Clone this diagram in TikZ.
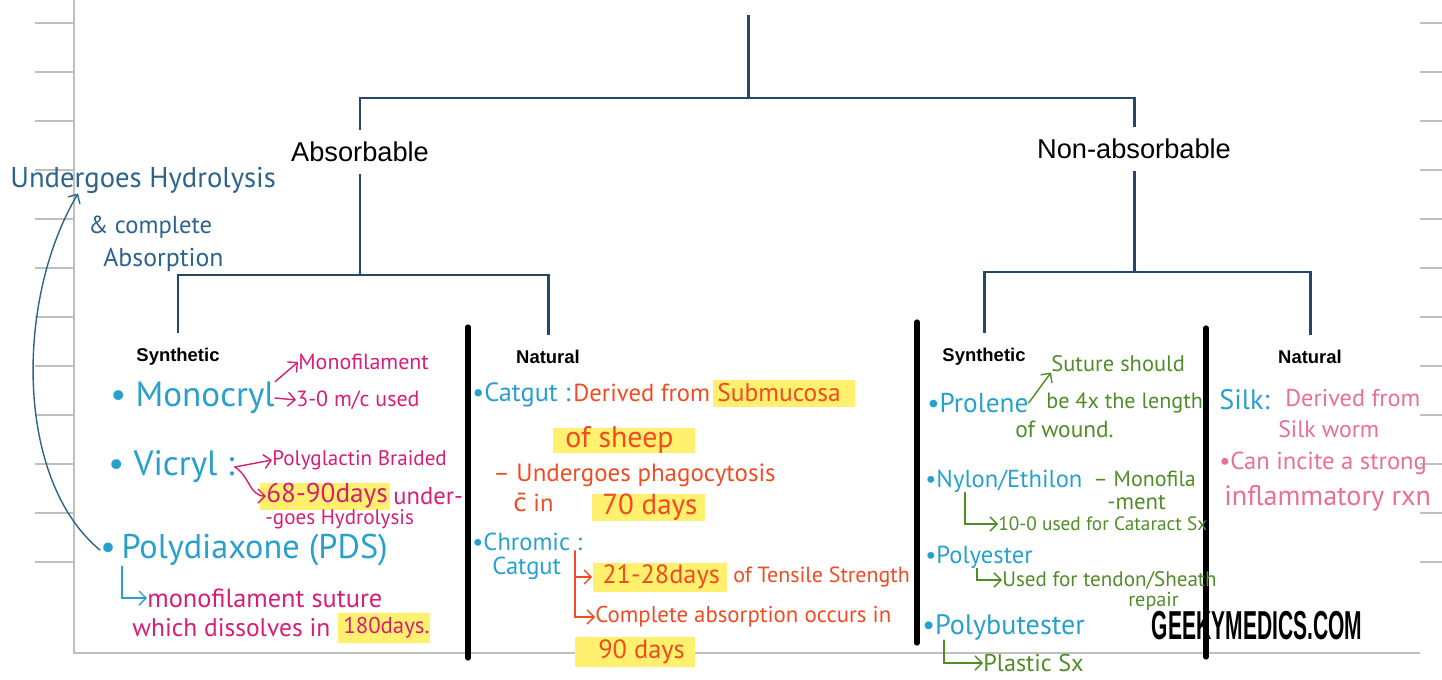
\documentclass[tikz,border=0pt]{standalone}
\usepackage{fontspec}
\setmainfont{Liberation Sans}
\newfontfamily\hand{PT Sans}
\newfontfamily\handalt{DejaVu Sans}
\usetikzlibrary{positioning,calc,arrows.meta}
\definecolor{treeblue}{RGB}{38,72,104}
\definecolor{drugcyan}{RGB}{40,160,205}
\definecolor{notemagenta}{RGB}{214,30,120}
\definecolor{noteorange}{RGB}{240,75,35}
\definecolor{notegreen}{RGB}{80,140,40}
\definecolor{notepink}{RGB}{235,110,150}
\definecolor{annotblue}{RGB}{45,100,140}
\definecolor{hlyellow}{RGB}{255,240,110}
\newcommand{\fs}[1]{\fontsize{#1}{#1}\selectfont}

\begin{document}
\begin{tikzpicture}[x=0.02cm, y=-0.02cm, every node/.style={inner sep=0pt},
  tree/.style={draw=treeblue, line width=1.7pt},
  divider/.style={line width=3pt, line cap=round},
  gridline/.style={draw=black!25, line width=0.7pt},
  level/.style={font=\fs{15.5}, inner xsep=2pt, inner ysep=6.5pt},
  sublevel/.style={font=\fs{10.5}\bfseries, inner ysep=8.5pt},
  drug/.style={anchor=west, text=drugcyan, font=\hand\fs{#1}},
  mnote/.style={anchor=west, text=notemagenta, font=\hand\fs{#1}},
  onote/.style={anchor=west, text=noteorange, font=\hand\fs{#1}},
  gnote/.style={anchor=west, text=notegreen, font=\hand\fs{#1}},
  pnote/.style={anchor=west, text=notepink, font=\hand\fs{#1}},
  bnote/.style={anchor=west, text=annotblue, font=\hand\fs{#1}},
  hl/.style={fill=hlyellow},
  link/.style={-{Straight Barb[length=4pt]}, line width=0.8pt, line cap=round}]
\useasboundingbox (0,0) rectangle (1442,679);

\draw[gridline] (74,0) -- (74,653) -- (1420,653);
\foreach \y in {23,72,...,563} {
  \draw[gridline] (35,\y) -- (74,\y);
  \draw[gridline] (1420,\y) -- (1442,\y);
}

\coordinate (top) at (748,15);
\coordinate (hub) at (748,98);
\node[level] (abs) at (360,152) {Absorbable};
\node[level] (nonabs) at (1134,149) {Non-absorbable};
\draw[tree] (top) -- (hub) -| (abs.north);
\draw[tree] (hub) -| (nonabs.north);

\node[sublevel] (syn1) at (178,357) {Synthetic};
\node[sublevel] (nat1) at (548,357) {Natural};
\node[sublevel] (syn2) at (984,357) {Synthetic};
\node[sublevel] (nat2) at (1310,357) {Natural};
\coordinate (abshub) at (360,275);
\coordinate (nonhub) at (1134,272);
\draw[tree] (abs.south) -- (abshub) -| (syn1.north);
\draw[tree] (abshub) -| (nat1.north);
\draw[tree] (nonabs.south) -- (nonhub) -| (syn2.north);
\draw[tree] (nonhub) -| (nat2.north);

\draw[divider] (468,327) -- (468,658);
\draw[divider] (917,322) -- (917,643);
\draw[divider] (1206,328) -- (1206,657);

\node[bnote=16.3] (hyd) at (10,180) {Undergoes Hydrolysis};
\node[bnote=14] (compl) at (88,227) {\& complete};
\node[bnote=14.7] (absorp) at (103,260) {Absorption};

\node[drug=20] (mono) at (110,398) {• Monocryl};
\node[mnote=12.5] (monofil) at (298,362) {Monofilament};
\node[mnote=12.5] (used) at (296,400) {3-0 m/c used};
\draw[link, notemagenta] (mono.north east) -- (monofil.west);
\draw[link, notemagenta] (mono.east) -- (used.west);

\node[drug=20] (vic) at (108,467) {• Vicryl :};
\node[mnote=12] (polyg) at (272,460) {Polyglactin Braided};
\node[hl, minimum width=2.6cm, minimum height=0.54cm] (d6890) at (325,496) {};
\node[mnote=15.5] (d6890txt) at (266,496) {68-90days};
\node[mnote=14] (under) at (393,496) {under-};
\node[mnote=12] (goes) at (265,519) {-goes Hydrolysis};
\draw[link, notemagenta] (vic.east) -- (polyg.west);
\draw[link, notemagenta] (vic.east) to[out=-30, in=180] (d6890txt.west);

\node[drug=19.5] (pds) at (100,550) {•\,Polydiaxone (PDS)};
\node[mnote=15] (monosut) at (147,598) {monofilament suture};
\node[mnote=14.5] (which) at (132,628) {which dissolves in};
\node[hl, minimum width=1.84cm, minimum height=0.6cm] (d180) at (384,628) {};
\node[mnote=13] (d180txt) at (343,628) {180days.};
\draw[link, drugcyan] ($(pds.south west)+(22,0)$) |- (monosut.west);
\draw[link, annotblue] (pds.west) .. controls (15,480) and (15,300) .. ($(hyd.south west)+(68,0)$);

\node[drug=15] (catgut) at (472,395) {•Catgut :};
\node[onote=14] (derived) at (573,393) {Derived from};
\node[hl, minimum width=2.84cm, minimum height=0.54cm] (submuc) at (784,393) {};
\node[onote=14.5] (submuctxt) at (717,393) {Submucosa};
\node[hl, minimum width=2.84cm, minimum height=0.5cm] (sheep) at (624,440) {};
\node[onote=17] (sheeptxt) at (565,440) {of sheep};
\node[onote=14.2] (phago) at (493,475) {– Undergoes phagocytosis};
\node[onote=14] (cin) at (513,503) {{\handalt c̄} in};
\node[hl, minimum width=2.26cm, minimum height=0.54cm] (d70) at (648,507) {};
\node[onote=16.5] (d70txt) at (602,507) {70 days};

\node[drug=14] (chromic) at (472,542) {•Chromic :};
\node[drug=14] (catgut2) at (492,568) {Catgut};
\coordinate (brk) at (575,551);
\node[hl, minimum width=2.7cm, minimum height=0.58cm] (d2128) at (660,577) {};
\node[onote=15] (d2128txt) at (602,577) {21-28days};
\node[onote=12.5] (tensile) at (733,577) {of Tensile Strength};
\node[onote=13] (complete) at (595,617) {Complete absorption occurs in};
\node[hl, minimum width=2.4cm, minimum height=0.6cm] (d90) at (635,652) {};
\node[onote=15] (d90txt) at (598,652) {90 days};
\draw[link, noteorange] (brk) |- (d2128.west);
\draw[link, noteorange] (brk) |- (complete.west);

\node[drug=15.5] (prolene) at (927,403) {•Prolene};
\node[gnote=12.8] (suture) at (1051,364) {Suture should};
\node[gnote=12.6] (be4x) at (1046,403) {be 4x the length};
\node[gnote=13.3] (wound) at (1015,429) {of wound.};
\draw[link, notegreen] (prolene.east) -- (suture.south west);

\node[drug=14] (nylon) at (925,481) {•Nylon/Ethilon};
\node[gnote=12.5] (monofila) at (1093,479) {– Monofila};
\node[gnote=13] (ment) at (1107,503) {-ment};
\node[gnote=11] (cataract) at (998,524) {10-0 used for Cataract Sx};
\draw[link, notegreen] ($(nylon.south west)+(40,0)$) |- (cataract.west);

\node[drug=14] (polyester) at (925,557) {•Polyester};
\node[gnote=12] (tendon) at (1002,580) {Used for tendon/Sheath};
\node[gnote=11.5] (repair) at (1128,601) {repair};
\draw[link, notegreen] ($(polyester.south west)+(52,0)$) |- (tendon.west);

\node[drug=16] (polybut) at (922,627) {•Polybutester};
\node[gnote=13.8] (plastic) at (983,663) {Plastic Sx};
\draw[link, notegreen] ($(polybut.south west)+(22,0)$) |- (plastic.west);

\node[drug=16] (silk) at (1219,400) {Silk:};
\node[pnote=13.8] (derived2) at (1285,398) {Derived from};
\node[pnote=13.5] (worm) at (1278,429) {Silk worm};
\node[pnote=14] (incite) at (1219,463) {•Can incite a strong};
\node[pnote=16] (inflam) at (1224,498) {inflammatory rxn};

\node[font=\fs{23}\bfseries] (brand) at (1257,626) {\scalebox{0.52}[1]{GEEKYMEDICS.COM}};
\end{tikzpicture}
\end{document}
